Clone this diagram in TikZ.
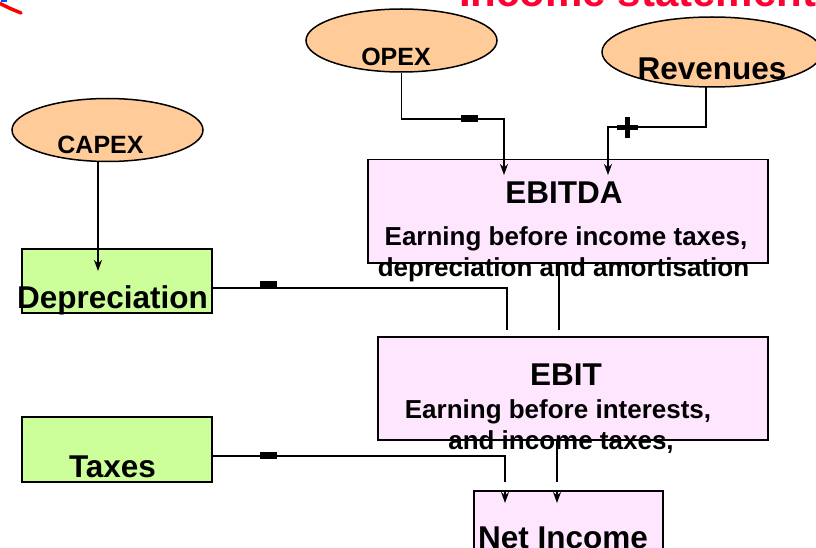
\documentclass[tikz,border=0pt]{standalone}
\usepackage{fontspec}
\setmainfont{Liberation Sans}
\usetikzlibrary{arrows.meta,shapes.geometric}
\definecolor{peach}{RGB}{255,204,153}
\definecolor{limebox}{RGB}{204,255,153}
\definecolor{pinkbox}{RGB}{255,230,255}
\definecolor{titlered}{RGB}{255,0,51}

\begin{document}
\begin{tikzpicture}[x=1pt,y=-1pt,
  oval/.style={ellipse, draw=black, line width=1.5pt, fill=peach, inner sep=0pt},
  greenbox/.style={rectangle, draw=black, line width=1.5pt, fill=limebox, inner sep=0pt, anchor=north west},
  pinkrect/.style={rectangle, draw=black, line width=1.5pt, fill=pinkbox, inner sep=0pt, anchor=north west},
  big/.style={font=\fontsize{31.5}{31.5}\selectfont\bfseries, inner sep=0pt, anchor=base},
  mid/.style={font=\fontsize{26}{26}\selectfont\bfseries, inner sep=0pt, anchor=base},
  ovaltext/.style={font=\fontsize{25}{25}\selectfont\bfseries, inner sep=0pt, anchor=base},
  flow/.style={draw=black, line width=1.5pt},
  tip/.style={-{Stealth[length=11pt,width=8pt,inset=3.5pt]}},
  minus/.style={rectangle, fill=black, inner sep=0pt, minimum width=17pt, minimum height=7pt}]

\clip (0,0) rectangle (816,548);

% pen mark in the corner
\fill[blue!70!cyan] (1,-1) rectangle (7,2);
\draw[red, line width=3.5pt, line cap=round] (-1,3) .. controls (9,8) .. (21,13);

% title
\node[font=\fontsize{42}{42}\selectfont\bfseries, text=titlered, inner sep=0pt, anchor=base west]
  (title) at (459,7) {Income statement};

% sources
\node[oval, minimum width=191pt, minimum height=63pt] (opex) at (401.5,40.5) {};
\node[oval, minimum width=220pt, minimum height=70pt] (rev) at (712,52) {};
\node[oval, minimum width=191pt, minimum height=63pt] (capex) at (107.5,130) {};

% boxes
\node[greenbox, minimum width=190pt, minimum height=64pt] (dep) at (21,248) {};
\node[greenbox, minimum width=190pt, minimum height=65pt] (tax) at (21,416) {};
\node[pinkrect, minimum width=400pt, minimum height=103pt] (ebitda) at (367,159) {};
\node[pinkrect, minimum width=390pt, minimum height=103pt] (ebit) at (377,336) {};
\node[pinkrect, minimum width=189pt, minimum height=90pt] (net) at (473,490) {};

% connector points
\coordinate (opexBend) at (401.5,119);
\coordinate (inA) at (504,175);
\coordinate (revOut) at (706,86);
\coordinate (revBend) at (706,127);
\coordinate (inB) at (608,175);
\coordinate (capexOut) at (98,161);
\coordinate (depIn) at (98,271);
\coordinate (depOut) at (211,288);
\coordinate (ebitInA) at (507,330);
\coordinate (ebitdaOut) at (559,262);
\coordinate (ebitInB) at (559,330);
\coordinate (taxOut) at (211,456);
\coordinate (netEndA) at (505,482);
\coordinate (ebitOut) at (557,439);
\coordinate (netEndB) at (557,482);
\coordinate (netTopA) at (505,490);
\coordinate (netTipA) at (505,503);
\coordinate (netTopB) at (557,490);
\coordinate (netTipB) at (557,503);

% connectors
\draw[flow, tip] (opex.south) -- (opexBend) -| (inA);
\draw[flow, tip] (revOut) -- (revBend) -| (inB);
\draw[flow, tip] (capexOut) -- (depIn);
\draw[flow] (depOut) -| (ebitInA);
\draw[flow] (ebitdaOut) -- (ebitInB);
\draw[flow] (taxOut) -| (netEndA);
\draw[flow] (ebitOut) -- (netEndB);
\draw[flow, tip] (netTopA) -- (netTipA);
\draw[flow, tip] (netTopB) -- (netTipB);

% signs on the connectors
\node[minus] (mOpex) at (469.5,119) {};
\node[minus] (mDep) at (268.5,284.5) {};
\node[minus] (mTax) at (268.5,455.5) {};
\draw[line width=5pt] (617,127.5) -- (638,127.5);
\draw[line width=5pt] (627.5,117) -- (627.5,138);

% labels
\node[ovaltext] (tOpex) at (396,66) {OPEX};
\node[ovaltext] (tCapex) at (100.5,154) {CAPEX};
\node[big] (tRev) at (712,80) {Revenues};
\node[big] (tDep) at (112.5,308) {Depreciation};
\node[big] (tTax) at (112.5,477) {Taxes};
\node[big] (tEbitda) at (564,204) {EBITDA};
\node[mid] (tEbitdaA) at (566,245) {Earning before income taxes,};
\node[mid] (tEbitdaB) at (563.5,276) {depreciation and amortisation};
\node[big] (tEbit) at (566,385) {EBIT};
\node[mid] (tEbitA) at (558,418) {Earning before interests,};
\node[mid] (tEbitB) at (561,449) {and income taxes,};
\node[big] (tNet) at (563,548) {Net Income};
\end{tikzpicture}
\end{document}
